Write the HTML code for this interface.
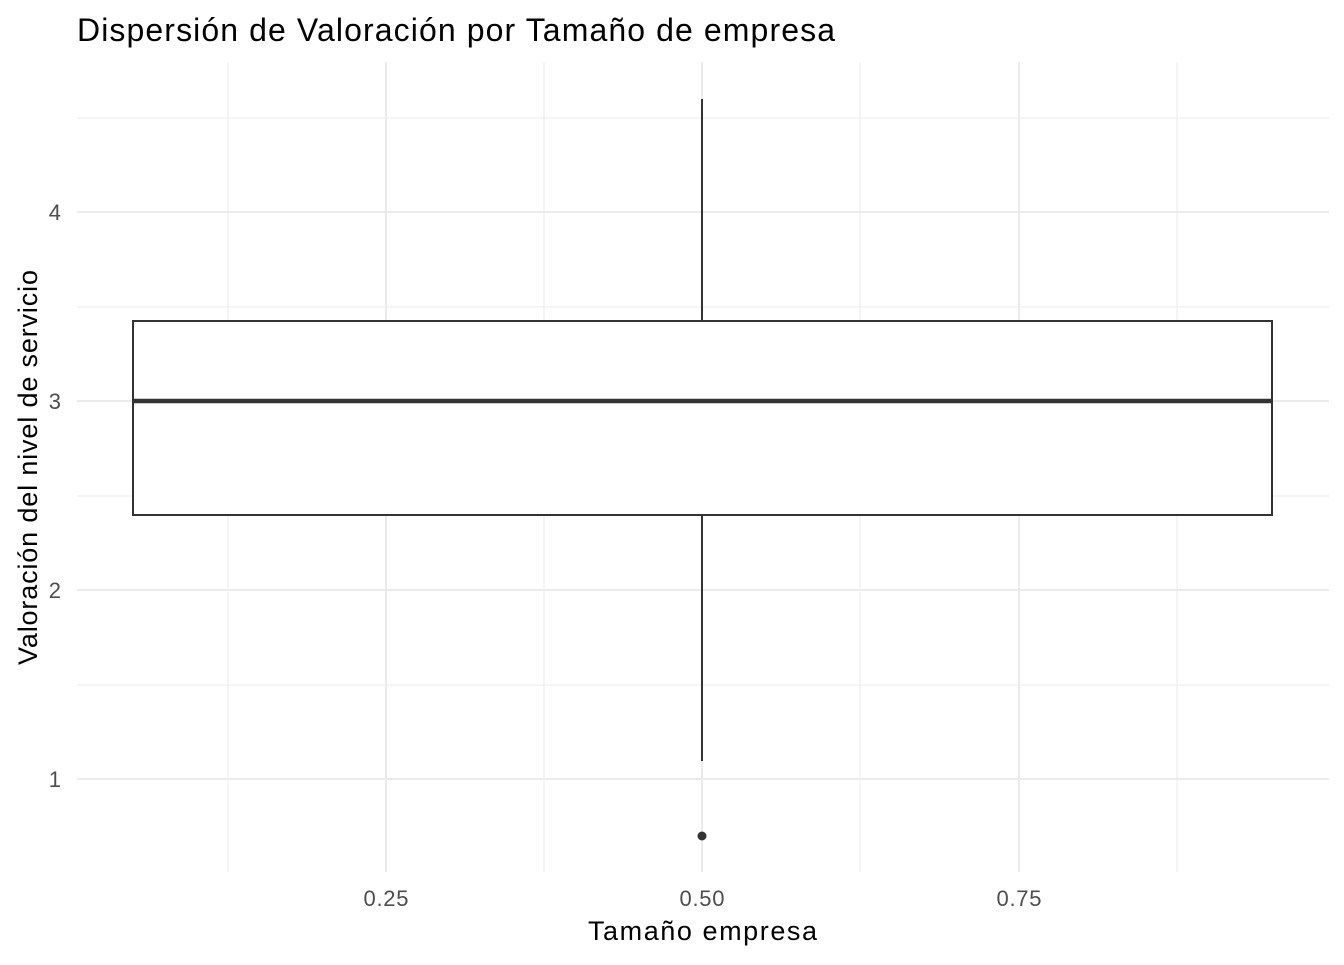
<!DOCTYPE html>
<html><head><meta charset="utf-8"><style>body{margin:0;background:#fff}</style></head>
<body>
<svg width="1344" height="960" xmlns="http://www.w3.org/2000/svg" font-family="Liberation Sans, Arial, sans-serif">
<rect width="1344" height="960" fill="#fff"/>
<g stroke="#ebebeb" stroke-width="1">
<line x1="228" y1="62" x2="228" y2="872"/><line x1="544" y1="62" x2="544" y2="872"/>
<line x1="860" y1="62" x2="860" y2="872"/><line x1="1177" y1="62" x2="1177" y2="872"/>
<line x1="77" y1="118" x2="1329" y2="118"/><line x1="77" y1="307" x2="1329" y2="307"/>
<line x1="77" y1="496" x2="1329" y2="496"/><line x1="77" y1="685" x2="1329" y2="685"/>
</g>
<g stroke="#ebebeb" stroke-width="2">
<line x1="386" y1="62" x2="386" y2="872"/><line x1="702" y1="62" x2="702" y2="872"/><line x1="1019" y1="62" x2="1019" y2="872"/>
<line x1="77" y1="212" x2="1329" y2="212"/><line x1="77" y1="401" x2="1329" y2="401"/>
<line x1="77" y1="590" x2="1329" y2="590"/><line x1="77" y1="779" x2="1329" y2="779"/>
</g>
<g stroke="#333" stroke-width="2" fill="#fff">
<line x1="702" y1="99" x2="702" y2="321"/><line x1="702" y1="515" x2="702" y2="761"/>
<rect x="133" y="321" width="1139" height="194"/>
</g>
<line x1="133" y1="401" x2="1272" y2="401" stroke="#333" stroke-width="4.5"/>
<circle cx="702" cy="836" r="4.5" fill="#333"/>
<g fill="#4d4d4d" font-size="22" text-anchor="end">
<text x="61" y="220">4</text><text x="61" y="409">3</text><text x="61" y="598">2</text><text x="61" y="787">1</text>
</g>
<g fill="#4d4d4d" font-size="22" text-anchor="middle">
<text x="386" y="906" textLength="45">0.25</text><text x="702" y="906" textLength="45">0.50</text><text x="1019" y="906" textLength="45">0.75</text>
</g>
<text x="588" y="940" font-size="27" textLength="229" fill="#000">Tamaño empresa</text>
<text transform="translate(37,665) rotate(-90)" font-size="27" textLength="395" fill="#000">Valoración del nivel de servicio</text>
<text x="77" y="41" font-size="32" textLength="758" fill="#000">Dispersión de Valoración por Tamaño de empresa</text>
</svg>
</body></html>
